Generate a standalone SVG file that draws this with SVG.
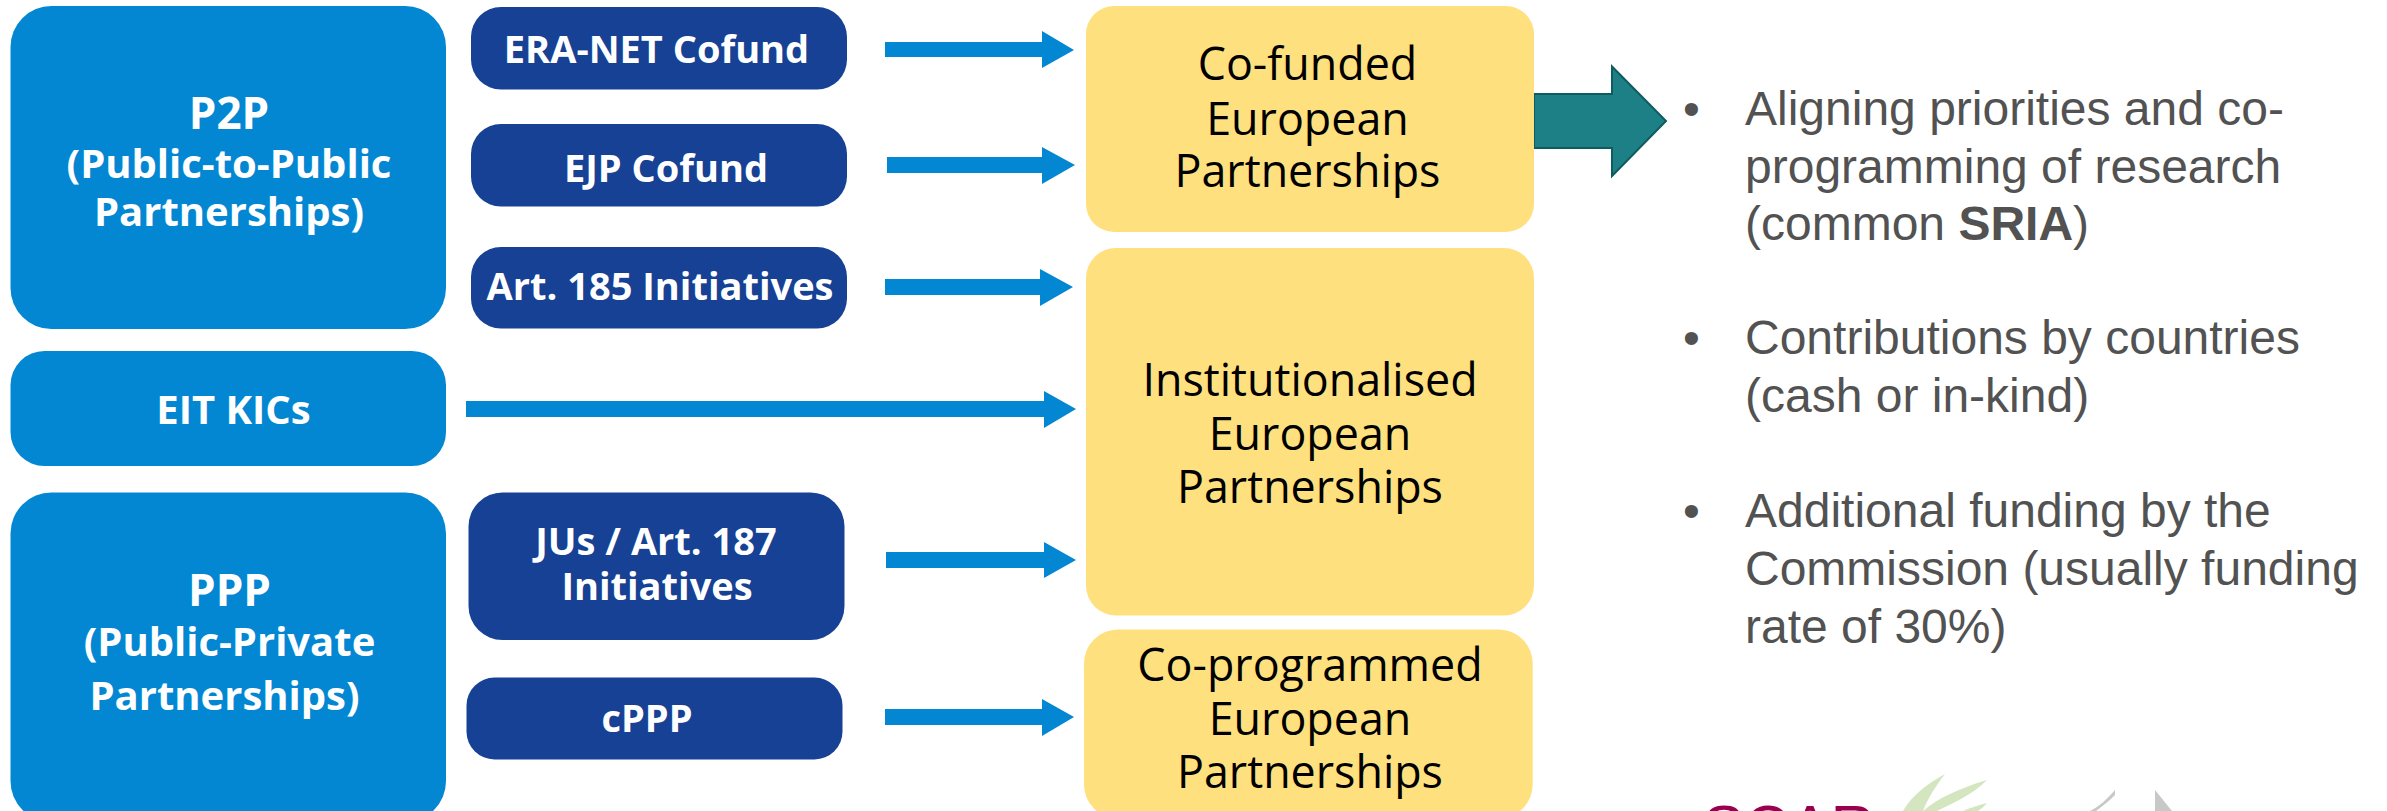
<svg xmlns="http://www.w3.org/2000/svg" width="2387" height="811" viewBox="0 0 2387 811">
<style>
.b{fill:#0387d2}.d{fill:#164194}.y{fill:#ffe07f}
.w{font-family:"Open Sans","Liberation Sans",sans-serif;font-weight:700;fill:#fff;text-anchor:middle;font-size:40px}
.h{font-size:44px}
.s{font-family:"Open Sans","Liberation Sans",sans-serif;font-weight:700;fill:#fff;text-anchor:middle;font-size:38px}
.k{font-family:"Open Sans","Liberation Sans",sans-serif;fill:#000;text-anchor:middle;font-size:44.800px}
.t{font-family:"Liberation Sans",Arial,sans-serif;fill:#525252;font-size:48px}
.a{fill:#0387d2}
</style>
<rect width="2387" height="811" fill="#fff"/>
<g id="connectors">
<path class="a" d="M885 42H1042V31L1074 50L1042 68V57H885Z"/>
<path class="a" d="M887 157H1042V147L1075 165L1042 184V173H887Z"/>
<path class="a" d="M885 279H1040V269L1073 287L1040 306V295H885Z"/>
<path class="a" d="M466 401H1044V391L1076 409L1044 428V417H466Z"/>
<path class="a" d="M886 552H1044V542L1076 560L1044 578V568H886Z"/>
<path class="a" d="M885 709H1042V699L1074 717L1042 736V725H885Z"/>
<path d="M1534 94H1612V66.500L1666 121L1612 176V148H1534Z" fill="#1d8087" stroke="#0f5c60" stroke-width="2"/>
</g>
<g id="p2p"><rect class="b" x="10.500" y="6" width="435.500" height="323" rx="41"/>
<text class="w h" x="229" y="129">P2P</text><text class="w" x="229" y="178">(Public-to-Public</text><text class="w" x="229" y="226">Partnerships)</text></g>
<g id="eit"><rect class="b" x="10.500" y="351" width="435.500" height="115" rx="34"/><text class="w" x="233.500" y="424">EIT KICs</text></g>
<g id="ppp"><rect class="b" x="10.500" y="492.500" width="435.500" height="329.500" rx="41"/>
<text class="w h" x="229.500" y="606">PPP</text><text class="w" x="229.500" y="656">(Public-Private</text><text class="w" x="224.500" y="710">Partnerships)</text></g>
<g id="era"><rect class="d" x="471" y="7" width="376" height="82.500" rx="30"/><text class="s" x="656.500" y="63">ERA-NET Cofund</text></g>
<g id="ejp"><rect class="d" x="471" y="124" width="376" height="82.500" rx="30"/><text class="s" x="666" y="182">EJP Cofund</text></g>
<g id="art185"><rect class="d" x="471" y="247" width="376" height="81.500" rx="30"/><text class="s" x="660" y="300">Art. 185 Initiatives</text></g>
<g id="ju"><rect class="d" x="468.500" y="492.500" width="376" height="147.500" rx="34"/><text class="s" x="656" y="555">JUs / Art. 187</text><text class="s" x="657" y="600">Initiatives</text></g>
<g id="cppp"><rect class="d" x="466.500" y="677.500" width="376" height="82" rx="28"/><text class="s" x="647" y="732">cPPP</text></g>
<g id="cofunded"><rect class="y" x="1086" y="6" width="448" height="226" rx="28"/>
<text class="k" x="1307.500" y="80">Co-funded</text><text class="k" x="1307.500" y="134.500">European</text><text class="k" x="1307.500" y="187">Partnerships</text></g>
<g id="institutionalised"><rect class="y" x="1086" y="248" width="448" height="367.500" rx="30"/>
<text class="k" x="1310" y="396">Institutionalised</text><text class="k" x="1310" y="450">European</text><text class="k" x="1310" y="503">Partnerships</text></g>
<g id="coprogrammed"><rect class="y" x="1084" y="629.500" width="448.700" height="189" rx="34"/>
<text class="k" x="1310" y="681">Co-programmed</text><text class="k" x="1310" y="735">European</text><text class="k" x="1310" y="788">Partnerships</text></g>
<g id="bullets">
<text class="t" x="1683" y="125">•</text><text class="t" x="1745" y="125">Aligning priorities and co-</text>
<text class="t" x="1745" y="183">programming of research</text>
<text class="t" x="1745" y="240">(common <tspan font-weight="700">SRIA</tspan>)</text>
<text class="t" x="1683" y="354">•</text><text class="t" x="1745" y="354">Contributions by countries</text>
<text class="t" x="1745" y="412">(cash or in-kind)</text>
<text class="t" x="1683" y="527">•</text><text class="t" x="1745" y="527">Additional funding by the</text>
<text class="t" x="1745" y="585">Commission (usually funding</text>
<text class="t" x="1745" y="643">rate of 30%)</text>
</g>
<g id="logo">
<text x="1703" y="848" font-family="Liberation Sans,Arial,sans-serif" font-size="62" fill="#99004f">SCAR</text>
<path d="M1945 774C1925 785 1910 798 1903 811H1923C1927 800 1935 787 1945 774Z" fill="#d3e6bf"/>
<path d="M1987 780C1960 788 1938 798 1923 811H1937C1955 802 1972 795 1987 780Z" fill="#d3e6bf"/>
<path d="M1987 803C1978 805 1970 808 1963 811H1978C1982 808 1985 806 1987 803Z" fill="#d3e6bf"/>
<path d="M2115 790C2108 798 2100 806 2090 811H2096C2103 806 2110 800 2115 795Z" fill="#c8c8c8"/>
<path d="M2155 790L2172 811H2155Z" fill="#c8c8c8"/>
</g>
</svg>
